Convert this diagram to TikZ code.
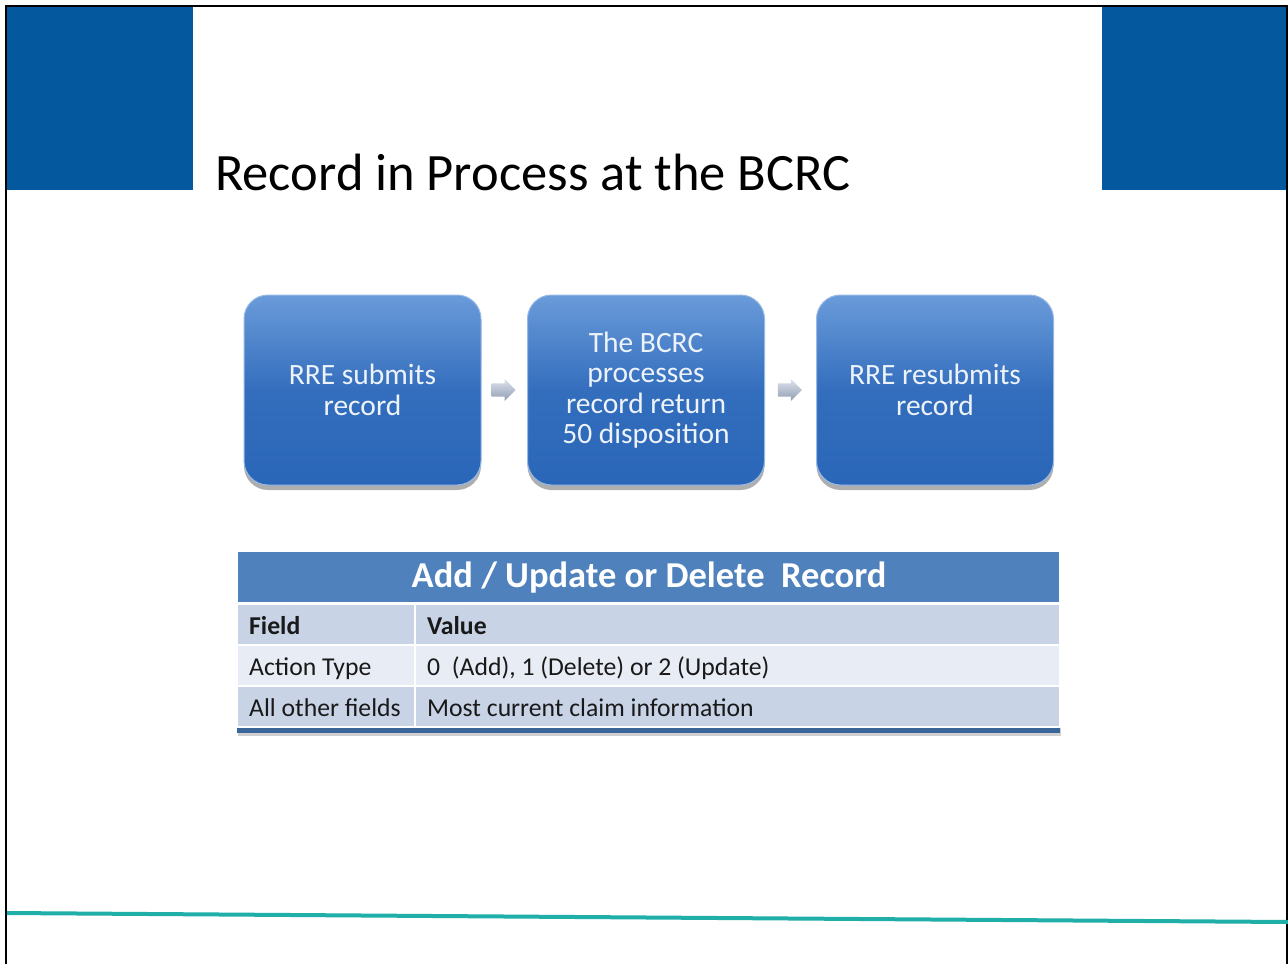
\documentclass[tikz,border=0pt]{standalone}
\usepackage{fontspec}
\setmainfont{Carlito}
\usetikzlibrary{shadows,shapes.arrows,calc}
\definecolor{cornerblue}{HTML}{04589E}
\definecolor{boxtop}{HTML}{6A9BDA}
\definecolor{boxbot}{HTML}{2A66B8}
\definecolor{boxtext}{HTML}{EEF3FA}
\definecolor{hdrblue}{HTML}{4F81BD}
\definecolor{rowdark}{HTML}{C8D3E6}
\definecolor{rowlight}{HTML}{E8ECF4}
\definecolor{tabline}{HTML}{3A6699}
\definecolor{teal}{HTML}{1FAFA8}
\definecolor{arrowgrey}{HTML}{A9B8D2}
\tikzset{
  stepbox/.style={rectangle, rounded corners=24pt, minimum width=237pt, minimum height=190pt,
    top color=boxtop, bottom color=boxbot, middle color=boxbot!85!boxtop, draw=boxtop!70!white, line width=1pt,
    drop shadow={shadow xshift=0pt, shadow yshift=-5pt, opacity=0.45, fill=black!70},
    text=boxtext, align=center, font=\fontsize{29.5}{30.5}\selectfont},
  flowarrow/.style={single arrow, single arrow head extend=4pt, minimum width=22pt, minimum height=24pt,
    inner sep=6pt, top color=arrowgrey!40!white, bottom color=arrowgrey!85!black, draw=none, xshift=-4pt},
  rowcell/.style={rectangle, minimum width=823pt, minimum height=41pt, inner sep=0pt, draw=white, line width=1.5pt},
  celltext/.style={anchor=base west, inner sep=0pt, text=black!90, font=\fontsize{25.7}{27}\selectfont},
}
\begin{document}
\begin{tikzpicture}[x=1pt,y=-1pt]
\useasboundingbox (0,0) rectangle (1288,964);
\fill[white] (0,0) rectangle (1288,964);
% corner blocks
\fill[cornerblue] (6,6) rectangle (193,190);
\fill[cornerblue] (1102,6) rectangle (1288,190);
% frame
\draw[black, line width=1.5pt] (6,964) -- (6,6) -- (1287,6) -- (1287,964);
% bottom teal line
\draw[teal, line width=4pt] (7,913) -- (1288,922);
% title
\node[anchor=base west, inner sep=0pt, font=\fontsize{52.5}{56}\selectfont, text=black] (title) at (215,190) {Record in Process at the BCRC};
% step boxes
\node[stepbox] (b1) at (362.5,390) {RRE submits\\record};
\node[stepbox] (b2) at (646,390) {The BCRC\\processes\\record return\\50 disposition};
\node[stepbox] (b3) at (935,390) {RRE resubmits\\record};
\node[flowarrow] (a1) at ($(b1.east)!0.5!(b2.west)$) {};
\node[flowarrow] (a2) at ($(b2.east)!0.5!(b3.west)$) {};
% table
\fill[tabline, drop shadow={shadow xshift=1pt, shadow yshift=-3pt, opacity=0.3, fill=black!60}] (237,715) rectangle (1060,733);
\node[rectangle, minimum width=823pt, minimum height=51pt, inner sep=0pt, fill=hdrblue, draw=white, line width=1.5pt] (hdr) at (648.5,577) {};
\node[font=\bfseries\fontsize{36.5}{38}\selectfont, text=white, inner sep=0pt] (hdrtext) at (649,578) {Add / Update or Delete\ \ Record};
\node[rowcell, fill=rowdark] (r1) at (648.5,624.5) {};
\node[rowcell, fill=rowlight] (r2) at (648.5,665.5) {};
\node[rowcell, fill=rowdark] (r3) at (648.5,706.5) {};
\draw[white, line width=2pt] (415,604) -- (415,727);
\node[celltext, font=\bfseries\fontsize{25.7}{27}\selectfont] (f1) at (249,634) {Field};
\node[celltext, font=\bfseries\fontsize{25.7}{27}\selectfont] (v1) at (427,634) {Value};
\node[celltext] (f2) at (249,675) {Action Type};
\node[celltext] (v2) at (427,675) {0\ \ (Add), 1 (Delete) or 2 (Update)};
\node[celltext] (f3) at (249,716) {All other fields};
\node[celltext] (v3) at (427,716) {Most current claim information};
\end{tikzpicture}
\end{document}
